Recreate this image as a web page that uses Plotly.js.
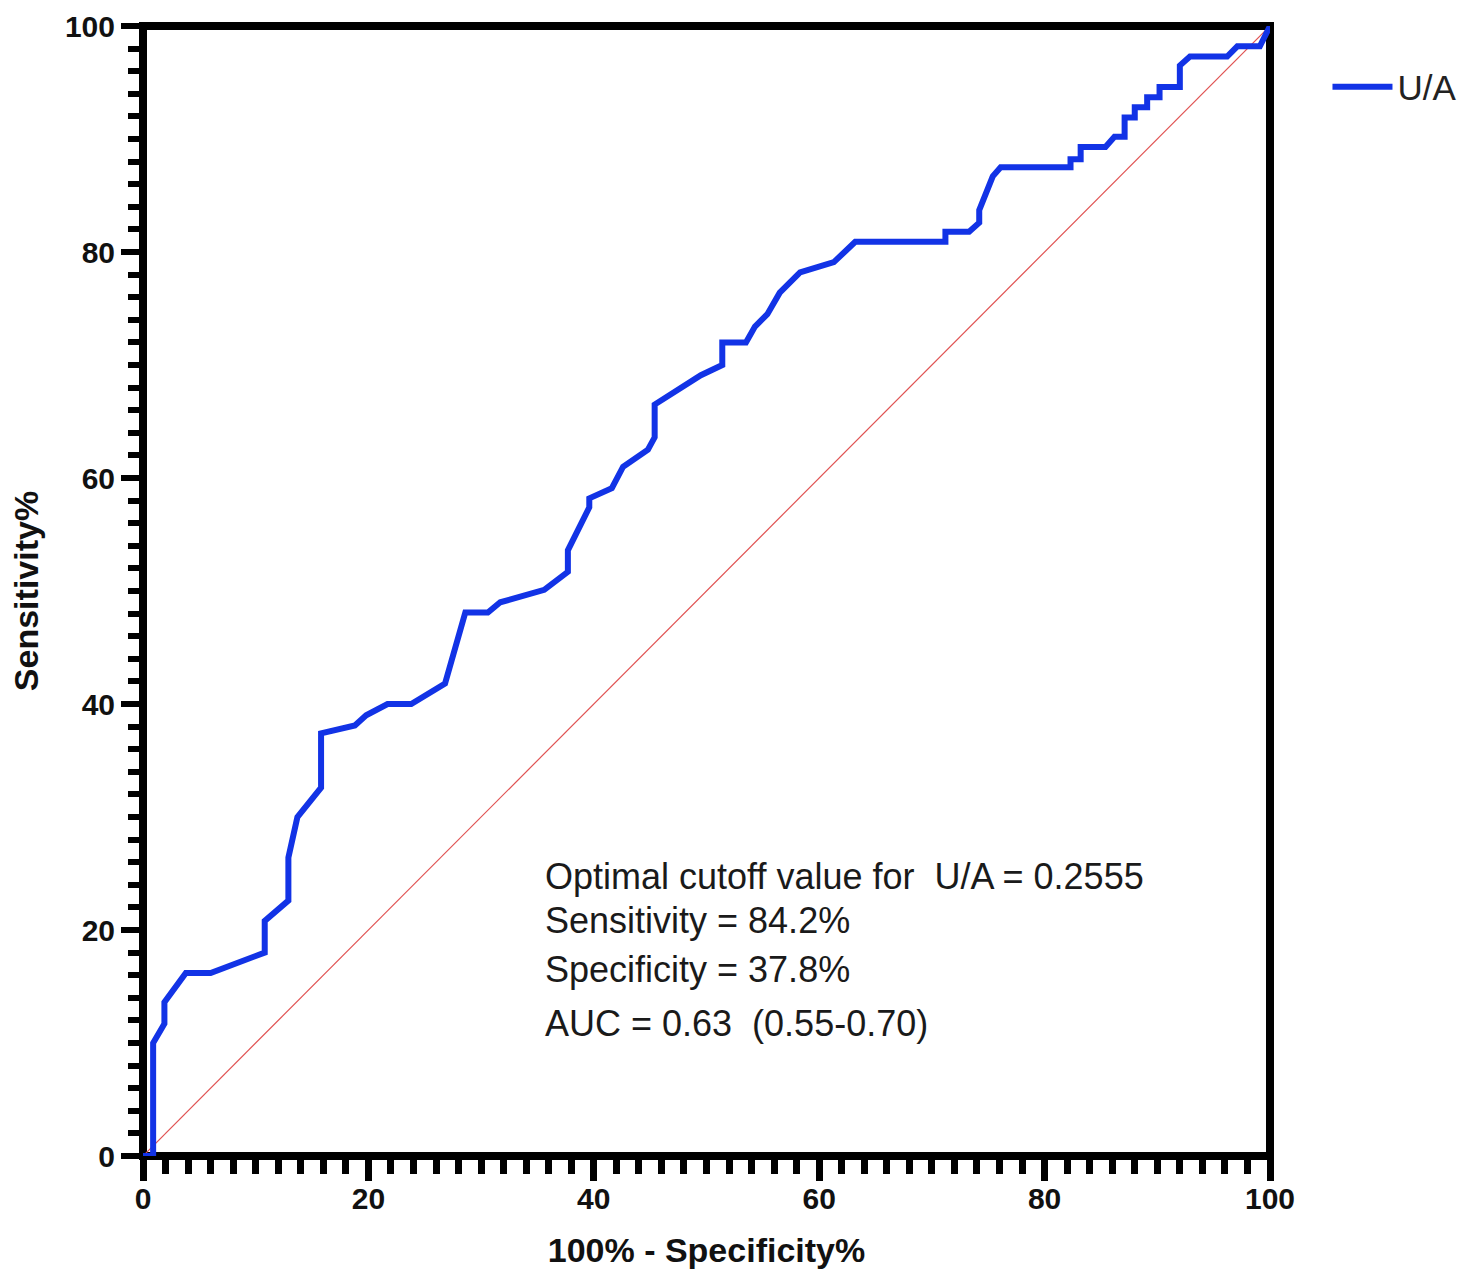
<!DOCTYPE html>
<html>
<head>
<meta charset="utf-8">
<script src="https://cdn.plot.ly/plotly-3.0.1.min.js"></script>
<style>html,body{margin:0;padding:0;background:#fff;}#chart{width:1483px;height:1270px;}</style>
</head>
<body>
<div id="chart"></div>
<script>
// 100% - Specificity% (x) and Sensitivity% (y) of the U/A ROC curve
const fpr = [0, 0.9, 0.9, 1.9, 1.9, 3.8, 6.0, 10.8, 10.8, 12.9, 12.9, 13.7, 15.8, 15.8, 18.8, 19.8, 21.7, 23.8, 26.8, 28.6, 30.6, 31.7, 35.6, 37.7, 37.7, 39.6, 39.6, 41.6, 42.6, 44.8, 45.4, 45.4, 49.5, 51.4, 51.4, 53.5, 54.3, 55.4, 56.5, 58.3, 61.3, 63.2, 71.2, 71.2, 73.3, 74.2, 74.2, 75.4, 76.1, 82.3, 82.3, 83.2, 83.2, 85.4, 86.2, 87.1, 87.1, 88.0, 88.0, 89.1, 89.1, 90.2, 90.2, 92.0, 92.0, 92.9, 96.2, 97.1, 99.1, 100];
const tpr = [0, 0, 10.0, 11.7, 13.6, 16.2, 16.2, 18.0, 20.8, 22.6, 26.4, 30.0, 32.6, 37.4, 38.1, 39.0, 40.0, 40.0, 41.8, 48.1, 48.1, 49.0, 50.1, 51.7, 53.6, 57.4, 58.2, 59.1, 61.0, 62.5, 63.6, 66.5, 69.1, 70.0, 72.0, 72.0, 73.4, 74.5, 76.4, 78.2, 79.1, 80.9, 80.9, 81.8, 81.8, 82.6, 83.7, 86.7, 87.5, 87.5, 88.2, 88.2, 89.3, 89.3, 90.2, 90.2, 91.9, 91.9, 92.8, 92.8, 93.7, 93.7, 94.6, 94.6, 96.5, 97.3, 97.3, 98.2, 98.2, 100];
// reference (chance) line
const refX = [0, 100];
const refY = [0, 100];
const seriesName = "U/A";
const tickVals = [0, 20, 40, 60, 80, 100];
const tickText = ["0", "20", "40", "60", "80", "100"];
const noteLines = [
  "Optimal cutoff value for  U/A = 0.2555",
  "Sensitivity = 84.2%",
  "Specificity = 37.8%",
  "AUC = 0.63  (0.55-0.70)"
];
const noteY = [24.7, 20.8, 16.5, 11.7];
const noteX = 35.5;

const arial = "Arial, 'Liberation Sans', sans-serif";
const tickFont = {family: arial, size: 30, color: "#111", weight: "bold"};
const titleFont = {family: arial, size: 34, color: "#111", weight: "bold"};
const textFont = {family: arial, size: 36, color: "#1a1a1a"};

const traces = [
  {x: refX, y: refY, mode: "lines", line: {color: "#e05252", width: 1.2}, showlegend: false, hoverinfo: "skip", cliponaxis: false},
  {x: fpr, y: tpr, mode: "lines", name: seriesName, line: {color: "#1233e6", width: 6}, cliponaxis: false}
];

function axis(major, minorLen, tw, title, standoff, labelOff) {
  return {
    range: [0, 100], tickvals: tickVals, ticktext: tickText,
    showgrid: false, zeroline: false, showline: false,
    ticks: "outside", ticklen: major, tickwidth: tw, tickcolor: "#000",
    ticklabelstandoff: labelOff,
    minor: {dtick: 2, ticks: "outside", ticklen: minorLen, tickwidth: tw, tickcolor: "#000", showgrid: false},
    tickfont: tickFont, fixedrange: true,
    title: {text: title, font: titleFont, standoff: standoff}
  };
}

const layout = {
  width: 1483, height: 1270,
  margin: {l: 143, r: 213, t: 26, b: 114},
  paper_bgcolor: "#fff", plot_bgcolor: "#fff",
  xaxis: axis(24, 17, 7, "100% - Specificity%", 24, -8),
  yaxis: axis(21, 14, 6, "Sensitivity%", 16, 0),
  showlegend: true,
  legend: {x: 1.051, y: 0.946, xanchor: "left", yanchor: "middle", itemwidth: 60,
           font: {family: arial, size: 35, color: "#222"}, bgcolor: "rgba(0,0,0,0)"},
  shapes: [
    {type: "rect", xref: "paper", yref: "paper", x0: 0, x1: 1, y0: 0, y1: 1,
     line: {color: "#000", width: 8}, layer: "below"}
  ],
  annotations: noteLines.map((t, i) => ({
    x: noteX, y: noteY[i], xref: "x", yref: "y", text: t, showarrow: false,
    xanchor: "left", yanchor: "middle", font: textFont
  }))
};

Plotly.newPlot("chart", traces, layout, {staticPlot: true, displayModeBar: false});
</script>
</body>
</html>
